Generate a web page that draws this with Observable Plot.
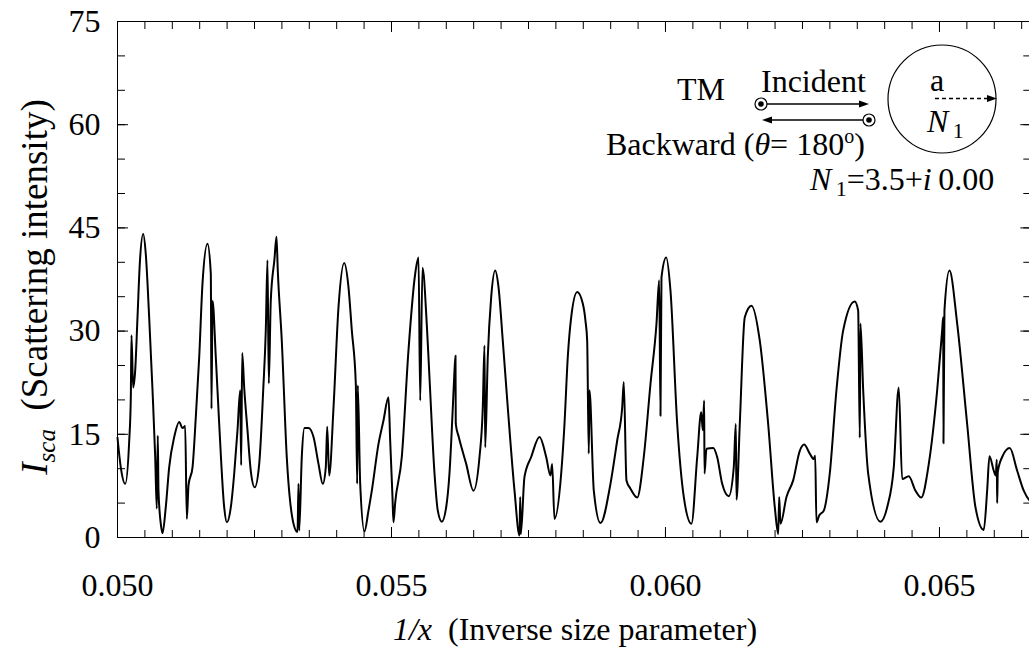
<!DOCTYPE html>
<html><head><meta charset="utf-8">
<script src="https://cdn.jsdelivr.net/npm/d3@7"></script>
<script src="https://cdn.jsdelivr.net/npm/@observablehq/plot@0.6"></script>
<style>
html,body{margin:0;padding:0;background:#fff;overflow:hidden;}
#chart svg{max-width:none !important;display:block;}
</style></head><body><div id="chart"></div>
<script>
// Inverse size parameter (1/x)
const invX = [0.050000,0.050060,0.050141,0.050214,0.050243,0.050255,0.050286,0.050323,0.050365,0.050407,
0.050469,0.050516,0.050578,0.050639,0.050688,0.050717,0.050735,0.050748,0.050790,0.050821,
0.050881,0.050943,0.051035,0.051126,0.051186,0.051235,0.051265,0.051296,0.051369,0.051429,
0.051491,0.051551,0.051642,0.051703,0.051715,0.051734,0.051794,0.051856,0.051947,0.051995,
0.052068,0.052130,0.052190,0.052239,0.052257,0.052276,0.052312,0.052372,0.052432,0.052505,
0.052586,0.052659,0.052706,0.052737,0.052761,0.052797,0.052865,0.052901,0.052925,0.052998,
0.053089,0.053212,0.053285,0.053303,0.053316,0.053363,0.053412,0.053485,0.053577,0.053668,
0.053746,0.053801,0.053827,0.053863,0.053942,0.054033,0.054137,0.054215,0.054276,0.054349,
0.054374,0.054385,0.054429,0.054507,0.054580,0.054641,0.054763,0.054854,0.054945,0.054976,
0.055018,0.055036,0.055068,0.055188,0.055310,0.055432,0.055493,0.055524,0.055566,0.055644,
0.055693,0.055785,0.055845,0.055918,0.055998,0.056058,0.056119,0.056144,0.056168,0.056173,
0.056228,0.056363,0.056496,0.056606,0.056666,0.056697,0.056710,0.056757,0.056819,0.056892,
0.056953,0.057031,0.057122,0.057245,0.057336,0.057349,0.057360,0.057427,0.057549,0.057701,
0.057823,0.057901,0.057932,0.057974,0.058097,0.058157,0.058217,0.058279,0.058389,0.058491,
0.058540,0.058571,0.058600,0.058613,0.058692,0.058814,0.058996,0.059119,0.059210,0.059239,
0.059288,0.059361,0.059484,0.059604,0.059726,0.059836,0.059885,0.059909,0.059927,0.060013,
0.060091,0.060214,0.060334,0.060474,0.060579,0.060652,0.060681,0.060706,0.060712,0.060748,
0.060870,0.060943,0.061035,0.061155,0.061246,0.061283,0.061296,0.061356,0.061447,0.061569,
0.061721,0.061874,0.061995,0.062057,0.062075,0.062099,0.062208,0.062330,0.062451,0.062531,
0.062633,0.062706,0.062732,0.062755,0.062805,0.062889,0.062998,0.063120,0.063243,0.063454,
0.063516,0.063546,0.063558,0.063608,0.063699,0.063923,0.064046,0.064166,0.064257,0.064319,
0.064440,0.064562,0.064666,0.064805,0.064958,0.065049,0.065068,0.065073,0.065091,0.065182,
0.065323,0.065505,0.065657,0.065808,0.065870,0.065912,0.065991,0.066027,0.066046,0.066053,
0.066064,0.066144,0.066283,0.066418,0.066538,0.066642,0.066667];

// Scattering intensity I_sca
const Isca = [14.5,10.2,7.8,14.1,20.4,29.4,21.8,24.3,32.0,39.8,
44.1,41.2,32.0,21.4,11.7,4.2,14.8,6.8,2.0,0.6,
4.4,10.2,14.6,16.8,15.9,16.2,2.7,7.6,10.2,17.5,
26.2,36.9,42.7,38.3,18.7,34.4,26.2,16.5,4.4,2.2,
4.4,9.3,15.6,21.4,10.5,26.8,21.8,15.6,9.7,7.3,
10.7,21.4,30.1,40.3,22.4,34.4,40.5,43.7,38.8,28.6,
11.7,2.0,0.8,7.8,1.0,11.7,15.9,15.9,14.6,10.7,
7.8,10.2,16.1,9.0,18.9,33.5,39.9,36.4,30.1,22.3,
7.8,22.1,7.8,0.9,3.9,6.8,13.6,17.0,20.4,14.1,
5.9,2.2,5.1,11.7,27.2,38.3,40.7,19.9,39.2,31.0,
23.3,9.3,3.9,2.3,4.4,9.3,18.9,23.3,26.4,16.5,
14.6,10.7,6.8,11.7,18.9,27.9,13.1,26.2,34.9,38.8,
36.4,28.6,18.9,6.8,0.3,5.9,0.5,8.8,11.7,14.6,
11.7,9.0,10.7,2.7,9.3,16.5,26.2,32.0,35.7,34.0,
31.5,28.6,12.2,21.4,6.8,2.1,7.8,14.1,18.9,22.6,
8.3,7.1,5.8,11.7,22.3,31.1,37.4,17.7,37.8,40.7,
35.9,16.5,5.9,2.0,11.7,18.2,15.6,19.9,9.3,12.9,
13.0,11.7,7.8,6.0,10.2,16.5,5.5,16.5,32.0,33.7,
28.6,16.5,4.4,0.5,5.9,2.0,5.9,8.3,12.6,13.5,
12.2,11.4,11.9,2.2,3.2,3.9,9.3,21.4,30.1,34.3,
33.0,14.5,31.1,21.4,9.3,2.3,4.4,10.2,21.8,8.5,
8.9,6.8,5.8,10.7,21.4,30.1,32.0,13.7,33.0,38.8,
31.1,16.5,4.4,1.1,6.8,11.8,9.7,9.0,11.3,5.0,
9.5,11.7,13.0,9.7,6.8,5.4,5.2];

// Tick values
const xMajorTicks = [0.050, 0.055, 0.060, 0.065];
const xMinorTicks = d3.range(100, 134).map(i => i / 2000);
const yMajorTicks = [0, 15, 30, 45, 60, 75];
const yMinorTicks = [0, 5, 10, 15, 20, 25, 30, 35, 40, 45, 50, 55, 60, 65, 70, 75];

const data = invX.map((x, i) => ({invX: x, Isca: Isca[i]}));

const font = "'Liberation Serif','Times New Roman',serif";
const W = 1032, H = 650;

const chart = Plot.plot({
  width: W, height: H,
  marginLeft: 117, marginRight: 1.7, marginTop: 21, marginBottom: 113,
  style: {fontFamily: font, fontSize: "32px", background: "#fff", color: "#000"},
  x: {domain: [0.05, 1 / 15]},
  y: {domain: [0, 75]},
  marks: [
    Plot.frame({stroke: "#000", strokeWidth: 1}),
    // inward ticks
    Plot.axisX(xMinorTicks, {anchor: "bottom", tickSize: 7, dy: -7, fill: "none", label: null}),
    Plot.axisX(xMajorTicks, {anchor: "bottom", tickSize: 10, dy: -10, fill: "none", label: null}),
    Plot.axisX(xMinorTicks, {anchor: "top", tickSize: 7, dy: 7, fill: "none", label: null}),
    Plot.axisX(xMajorTicks, {anchor: "top", tickSize: 10, dy: 10, fill: "none", label: null}),
    Plot.axisY(yMinorTicks, {anchor: "left", tickSize: 8, dx: 8, fill: "none", label: null}),
    Plot.axisY(yMajorTicks, {anchor: "left", tickSize: 11, dx: 11, fill: "none", label: null}),
    Plot.axisY(yMinorTicks, {anchor: "right", tickSize: 8, dx: -8, fill: "none", label: null}),
    Plot.axisY(yMajorTicks, {anchor: "right", tickSize: 11, dx: -11, fill: "none", label: null}),
    // tick labels
    Plot.axisX(xMajorTicks, {anchor: "bottom", tickSize: 0, tickPadding: 36, tickFormat: d3.format(".3f"), label: null, fontSize: 32}),
    Plot.axisY(yMajorTicks, {anchor: "left", tickSize: 0, tickPadding: 17, tickFormat: d3.format("d"), label: null, fontSize: 32}),
    Plot.line(data, {x: "invX", y: "Isca", curve: "monotone-x", stroke: "#000", strokeWidth: 2})
  ]
});
document.getElementById("chart").appendChild(chart);

const svg = d3.select(chart);
const g = svg.append("g")
  .attr("font-family", font).attr("font-size", 32).attr("fill", "#000")
  .attr("text-anchor", "start");

// Y axis title
const yl = g.append("text").attr("transform", "translate(47,287) rotate(-90)").attr("text-anchor", "middle").attr("font-size", 37);
yl.append("tspan").attr("font-style", "italic").text("I");
yl.append("tspan").attr("font-style", "italic").attr("font-size", 25).attr("dy", 8).text("sca");
yl.append("tspan").attr("dy", -8).text("\u2002(Scattering intensity)");

// X axis title
const xl = g.append("text").attr("x", 575).attr("y", 640).attr("text-anchor", "middle");
xl.append("tspan").attr("font-style", "italic").text("1/x");
xl.append("tspan").text("\u2002(Inverse size parameter)");

// Annotation
g.append("text").attr("x", 677).attr("y", 100).text("TM");
g.append("text").attr("x", 761).attr("y", 92).text("Incident");

function arrowHead(tx, ty, dir) {
  const L = 10, Hh = 3.5;
  g.append("path")
    .attr("d", `M${tx},${ty}L${tx - dir * L},${ty - Hh}L${tx - dir * L},${ty + Hh}Z`)
    .attr("fill", "#000");
}
function circDot(cx, cy) {
  g.append("circle").attr("cx", cx).attr("cy", cy).attr("r", 6).attr("fill", "#fff").attr("stroke", "#000").attr("stroke-width", 1.2);
  g.append("circle").attr("cx", cx).attr("cy", cy).attr("r", 2.8).attr("fill", "#000");
}
g.append("line").attr("x1", 761).attr("y1", 104).attr("x2", 862).attr("y2", 104).attr("stroke", "#000").attr("stroke-width", 1.3);
arrowHead(869, 104, 1);
circDot(761, 104);
g.append("line").attr("x1", 869).attr("y1", 120).attr("x2", 770).attr("y2", 120).attr("stroke", "#000").attr("stroke-width", 1.3);
arrowHead(762, 120, -1);
circDot(869, 120);

const bw = g.append("text").attr("x", 606).attr("y", 155);
bw.append("tspan").text("Backward (");
bw.append("tspan").attr("font-style", "italic").text("\u03B8");
bw.append("tspan").text("= 180");
bw.append("tspan").attr("font-size", 20).attr("dy", -12).text("o");
bw.append("tspan").attr("dy", 12).text(")");

// particle
g.append("circle").attr("cx", 942).attr("cy", 99).attr("r", 54).attr("fill", "none").attr("stroke", "#000").attr("stroke-width", 1.2);
g.append("text").attr("x", 937).attr("y", 91).attr("text-anchor", "middle").text("a");
g.append("line").attr("x1", 935).attr("y1", 98.5).attr("x2", 988).attr("y2", 98.5).attr("stroke", "#000").attr("stroke-width", 1.3).attr("stroke-dasharray", "4,3");
arrowHead(997, 98.5, 1);
const n1 = g.append("text").attr("x", 927).attr("y", 132);
n1.append("tspan").attr("font-style", "italic").text("N");
n1.append("tspan").attr("font-size", 22).attr("dy", 6).text("\u20091");

const nn = g.append("text").attr("x", 810).attr("y", 190);
nn.append("tspan").attr("font-style", "italic").text("N");
nn.append("tspan").attr("font-size", 22).attr("dy", 6).text("\u20091");
nn.append("tspan").attr("dy", -6).text("=3.5+");
nn.append("tspan").attr("font-style", "italic").text("i");
nn.append("tspan").text("\u20090.00");
</script>
</body></html>
